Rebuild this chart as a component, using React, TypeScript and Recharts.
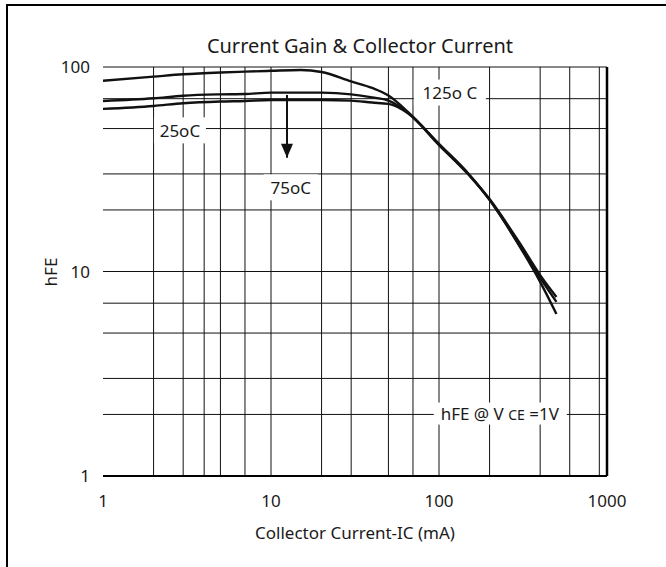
import React from 'react';
import {
  LineChart,
  Line,
  XAxis,
  YAxis,
  CartesianGrid,
  ReferenceLine,
  ReferenceDot,
} from 'recharts';

const FONT = '"Noto Sans", "Open Sans", sans-serif';

// collector current, mA
const IC = [1, 2, 3, 5, 7, 10, 15, 20, 30, 40, 50, 65, 100, 150, 200, 300, 400, 500];
// hFE per temperature
const HFE_25 = [62.4, 64.5, 66.5, 67.8, 68.2, 69, 69, 69, 68.5, 67, 66, 59.5, 41.5, 29.7, 22.4, 13.5, 9.3, 7.1];
const HFE_75 = [68.2, 70.3, 72.4, 73.5, 73.8, 74.9, 74.9, 74.9, 73.5, 71, 68.5, 60, 42, 30, 22.6, 13.9, 9.6, 7.5];
const HFE_125 = [85.7, 89.7, 92.1, 94, 94.9, 95.8, 96.7, 94.5, 85, 79, 72.5, 60.5, 42, 30, 22.4, 13.4, 8.9, 6.2];

const X_TICKS = [1, 10, 100, 1000];
const Y_TICKS = [1, 10, 100];
const X_GRID = [2, 3, 4, 5, 6, 7, 8, 9, 10, 20, 30, 40, 50, 60, 70, 80, 90, 100, 200, 300, 400, 500, 600, 700, 800, 900];
const Y_GRID = [2, 3, 4, 5, 6, 7, 8, 9, 10, 20, 30, 40, 50, 60, 70, 80, 90, 100];

// annotation anchors (data coords)
const NOTES = [
  { x: 2.87, y: 49, text: '25oC', w: 52 },
  { x: 13.1, y: 25.8, text: '75oC', w: 54 },
  { x: 116, y: 75, text: '125o C', w: 72 },
];
const ARROW_X = 12.45;
const ARROW_Y = [73, 36];

const data = IC.map((ic, i) => ({
  ic,
  t25: HFE_25[i],
  t75: HFE_75[i],
  t125: HFE_125[i],
}));

const NoteBox = (props: any) => {
  const { cx, cy, text, w } = props;
  return (
    <g>
      <rect x={cx - w / 2} y={cy - 13} width={w} height={26} fill="#fff" />
      <text x={cx} y={cy} textAnchor="middle" dominantBaseline="central" fontSize={17} fill="#1a1a1a" fontFamily={FONT}>
        {text}
      </text>
    </g>
  );
};

const CondBox = (props: any) => {
  const { cx, cy } = props;
  return (
    <g>
      <rect x={cx - 66} y={cy - 11} width={133} height={22} fill="#fff" />
      <text x={cx} y={cy} textAnchor="middle" dominantBaseline="central" fontSize={17} fill="#1a1a1a" fontFamily={FONT}>
        hFE @ V <tspan fontSize={14}>CE</tspan> =1V
      </text>
    </g>
  );
};

const ArrowHead = (props: any) => {
  const { cx, cy } = props;
  return <path d={`M${cx - 6},${cy - 14} L${cx + 6},${cy - 14} L${cx},${cy} Z`} fill="#111" />;
};

export default function App() {
  return (
    <div style={{ position: 'absolute', left: 0, top: 0, width: 666, height: 567, background: '#fff', fontFamily: FONT }}>
      <div style={{ position: 'absolute', left: 6, top: 4, width: 660, height: 563, borderLeft: '2px solid #000', borderTop: '2px solid #000' }} />
      <div style={{ position: 'absolute', left: 0, top: 32, width: 720, textAlign: 'center', fontSize: 20, color: '#1a1a1a' }}>
        Current Gain &amp; Collector Current
      </div>
      <div style={{ position: 'absolute', left: 0, top: 521, width: 710, textAlign: 'center', fontSize: 17, color: '#1a1a1a' }}>
        Collector Current-IC (mA)
      </div>
      <div style={{ position: 'absolute', left: 50, top: 272, transform: 'translate(-50%, -50%) rotate(-90deg)', fontSize: 17, color: '#1a1a1a' }}>
        hFE
      </div>
      <LineChart width={666} height={567} data={data} margin={{ top: 67, right: 59, bottom: 61, left: 43 }}>
        <CartesianGrid
          horizontalValues={Y_GRID}
          verticalValues={X_GRID}
          stroke="#111"
          strokeWidth={1}
        />
        <XAxis
          dataKey="ic"
          type="number"
          scale="log"
          domain={[1, 1000]}
          ticks={X_TICKS}
          allowDataOverflow
          height={30}
          axisLine={{ stroke: '#000', strokeWidth: 2 }}
          tickLine={false}
          tickMargin={13}
          tick={{ fontSize: 17, fill: '#1a1a1a', fontFamily: FONT }}
        />
        <YAxis
          type="number"
          scale="log"
          domain={[1, 100]}
          ticks={Y_TICKS}
          allowDataOverflow
          width={60}
          axisLine={false}
          tickLine={false}
          tickMargin={7}
          tick={{ fontSize: 17, fill: '#1a1a1a', fontFamily: FONT }}
        />
        <ReferenceLine x={1000} stroke="#000" strokeWidth={2.5} />
        <Line type="monotone" dataKey="t25" stroke="#111" strokeWidth={2.4} dot={false} isAnimationActive={false} />
        <Line type="monotone" dataKey="t75" stroke="#111" strokeWidth={2.4} dot={false} isAnimationActive={false} />
        <Line type="monotone" dataKey="t125" stroke="#111" strokeWidth={2.4} dot={false} isAnimationActive={false} />
        <ReferenceLine
          segment={[
            { x: ARROW_X, y: ARROW_Y[0] },
            { x: ARROW_X, y: ARROW_Y[1] },
          ]}
          stroke="#111"
          strokeWidth={2}
        />
        <ReferenceDot x={ARROW_X} y={ARROW_Y[1]} shape={ArrowHead} />
        {NOTES.map((n) => (
          <ReferenceDot key={n.text} x={n.x} y={n.y} shape={(p: any) => <NoteBox {...p} text={n.text} w={n.w} />} />
        ))}
        <ReferenceDot x={230} y={2.02} shape={CondBox} />
      </LineChart>
    </div>
  );
}
